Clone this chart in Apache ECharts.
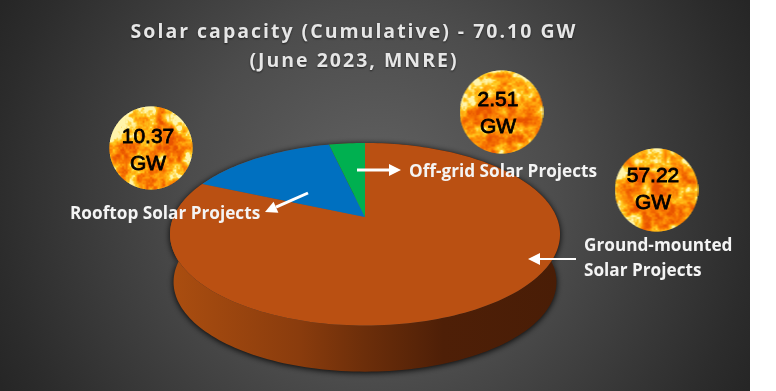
<!DOCTYPE html>
<html><head><meta charset="utf-8">
<script src="https://cdn.jsdelivr.net/npm/echarts@6/dist/echarts.min.js"></script>
<style>html,body{margin:0;padding:0;background:#fff}#c{width:776px;height:391px}</style>
</head><body><div id="c"></div>
<script>
var categories = ['Ground-mounted Solar Projects', 'Rooftop Solar Projects', 'Off-grid Solar Projects'];
var capacityGW = [57.22, 10.37, 2.51];
var sliceColors = ['#ba5012', '#0070c0', '#00b050'];
var titleText = 'Solar capacity (Cumulative) - 70.10 GW\n(June 2023, MNRE)';

var total = capacityGW.reduce(function (a, b) { return a + b; }, 0);
var startVals = capacityGW.map(function (_, i) { return capacityGW.slice(0, i).reduce(function (a, b) { return a + b; }, 0); });

// perspective disc: top and bottom faces
var K = 0.189;
var topFace = { cx: 365, cy: 217, A: 191.5, B: 88 };
var botFace = { cx: 365, cy: 265, A: 188, B: 86.5 };
function pt(f, deg) {
  var t = deg * Math.PI / 180, u = Math.sin(t), v = Math.cos(t), w = 1 + K * v;
  return [f.cx + f.A * u / w, f.cy - f.B * v / w];
}
function arc(f, a0, a1) {
  var out = [], n = Math.max(2, Math.ceil(Math.abs(a1 - a0) / 1.5));
  for (var i = 0; i <= n; i++) out.push(pt(f, a0 + (a1 - a0) * i / n));
  return out;
}
function renderTop(params, api) {
  var i = params.dataIndex, a0 = startVals[i] / total * 360, a1 = a0 + api.value(0) / total * 360;
  var pts = [[topFace.cx, topFace.cy]].concat(arc(topFace, a0, a1));
  return { type: 'polygon', shape: { points: pts }, style: { fill: sliceColors[i] } };
}
var sideFill = { type: 'linear', global: true, x: 170, y: 0, x2: 560, y2: 0, colorStops: [
  { offset: 0, color: '#ab4e10' }, { offset: 0.33, color: '#8a3c0d' }, { offset: 0.5, color: '#6c2e0a' },
  { offset: 0.7, color: '#4e1f07' }, { offset: 1, color: '#491d06' }] };
function renderSide(params, api) {
  var i = params.dataIndex, a0 = startVals[i] / total * 360, a1 = a0 + api.value(0) / total * 360;
  var pts = arc(topFace, a0, a1).concat(arc(botFace, a1, a0));
  return { type: 'polygon', shape: { points: pts },
    style: { fill: sideFill, shadowColor: 'rgba(0,0,0,0.95)', shadowBlur: 6, shadowOffsetY: 1 } };
}

// letter spacing for the title lines only
var TITLE_FONT = 19.5, origFill = CanvasRenderingContext2D.prototype.fillText;
CanvasRenderingContext2D.prototype.fillText = function (s, x, y, m) {
  var spaced = this.font.indexOf(TITLE_FONT + 'px') >= 0;
  if (spaced) this.letterSpacing = '2px';
  origFill.apply(this, arguments);
  if (spaced) this.letterSpacing = '0px';
};

// procedural sun-surface texture
function makeSun(seed, size) {
  var c = document.createElement('canvas'); c.width = c.height = size;
  var g = c.getContext('2d'), img = g.createImageData(size, size), d = img.data;
  function h(x, y) { var s = Math.sin(x * 127.1 + y * 311.7 + seed * 74.7) * 43758.5453; return s - Math.floor(s); }
  function vn(x, y) {
    var xi = Math.floor(x), yi = Math.floor(y), fx = x - xi, fy = y - yi;
    fx = fx * fx * (3 - 2 * fx); fy = fy * fy * (3 - 2 * fy);
    var a = h(xi, yi), b = h(xi + 1, yi), e = h(xi, yi + 1), f = h(xi + 1, yi + 1);
    return a + (b - a) * fx + (e - a) * fy + (a - b - e + f) * fx * fy;
  }
  var ramp = [[0, 232, 84, 0], [0.3, 248, 118, 2], [0.55, 255, 158, 10], [0.78, 255, 200, 30], [1, 255, 244, 170]];
  for (var y = 0; y < size; y++) for (var x = 0; x < size; x++) {
    var nx = (x + 0.5) / size * 2 - 1, ny = (y + 0.5) / size * 2 - 1, r = Math.sqrt(nx * nx + ny * ny);
    var k = (x + y * size) * 4;
    if (r > 1) { d[k + 3] = 0; continue; }
    var sc = 4.5, n = 0.5 * vn(nx * sc + 9, ny * sc + 9) + 0.33 * vn(nx * sc * 2.3 + 3, ny * sc * 2.3 + 3) + 0.17 * vn(nx * sc * 5 + 1, ny * sc * 5 + 1);
    var t = (n - 0.5) * 1.7 + 0.4 + 0.36 * Math.pow(r, 4) - 0.12 * ny * r;
    t = Math.max(0, Math.min(1, t));
    var j = 0; while (j < ramp.length - 2 && t > ramp[j + 1][0]) j++;
    var p = (t - ramp[j][0]) / (ramp[j + 1][0] - ramp[j][0]);
    for (var q = 0; q < 3; q++) d[k + q] = ramp[j][q + 1] + (ramp[j + 1][q + 1] - ramp[j][q + 1]) * p;
    d[k + 3] = Math.min(1, (1 - r) * size / 2 + 0.2) * 255;
  }
  g.putImageData(img, 0, 0);
  return c;
}
var sunCentres = [[656.5, 190], [151, 148], [501.5, 112]];
var sunTextOffsets = [[-3.5, 0], [-3, 3], [-3.5, 2]];

var labelBase = { fill: '#f4f4f4', font: 'bold 17.2px "Open Sans", sans-serif', textVerticalAlign: 'middle' };
function label(text, x, y) {
  return { type: 'text', z: 20, style: Object.assign({ text: text, x: x, y: y, textAlign: 'left' }, labelBase) };
}
function arrow(x0, y0, x1, y1, w) {
  var dx = x1 - x0, dy = y1 - y0, L = Math.sqrt(dx * dx + dy * dy), ux = dx / L, uy = dy / L, hl = 12, hw = 6;
  var bx = x1 - ux * hl, by = y1 - uy * hl;
  return [
    { type: 'line', z: 20, shape: { x1: x0, y1: y0, x2: bx, y2: by }, style: { stroke: '#fff', lineWidth: w } },
    { type: 'polygon', z: 20, shape: { points: [[x1, y1], [bx - uy * hw, by + ux * hw], [bx + uy * hw, by - ux * hw]] }, style: { fill: '#fff' } }
  ];
}

var graphics = [{
  type: 'rect', z: -10, shape: { x: 0, y: 0, width: 750, height: 391 },
  style: { fill: { type: 'radial', global: true, x: 375, y: 195, r: 420, colorStops: [
    { offset: 0, color: '#626262' }, { offset: 0.44, color: '#4c4c4c' }, { offset: 0.9, color: '#2c2c2c' }, { offset: 1, color: '#262626' }] } },
  silent: true
}];
capacityGW.forEach(function (v, i) {
  var c = sunCentres[i], o = sunTextOffsets[i];
  graphics.push({ type: 'image', z: 15, style: { image: makeSun(i + 1, 84), x: c[0] - 42, y: c[1] - 42, width: 84, height: 84 } });
  graphics.push({ type: 'text', z: 16, style: { text: v.toFixed(2) + '\nGW', x: c[0] + o[0], y: c[1] + o[1], textAlign: 'center', textVerticalAlign: 'middle',
    fill: '#000', font: '21px "Liberation Sans", Arial, sans-serif', lineHeight: 27, stroke: '#000', lineWidth: 0.8 } });
});
graphics.push(label('Rooftop Solar Projects', 70, 214.5));
graphics.push(label('Off-grid Solar Projects', 409, 172));
graphics.push(label('Ground-mounted', 584, 246));
graphics.push(label('Solar Projects', 584, 271.5));
graphics = graphics.concat(arrow(308, 193, 265, 212, 3), arrow(357, 170, 401, 170, 3), arrow(576, 259, 528, 259, 2));

var chart = echarts.init(document.getElementById('c'), null, { renderer: 'canvas' });
chart.setOption({
  animation: false,
  backgroundColor: 'transparent',
  title: { text: titleText, left: 349, top: 13, textAlign: 'center',
    textStyle: { color: '#e6e6e6', fontFamily: '"Open Sans", sans-serif', fontWeight: 'bold', fontSize: TITLE_FONT, lineHeight: 29,
      textShadowColor: 'rgba(0,0,0,0.6)', textShadowBlur: 2, textShadowOffsetY: 1 } },
  graphic: graphics,
  series: [
    { type: 'custom', name: 'side', coordinateSystem: 'none', z: 2, silent: true, renderItem: renderSide, data: capacityGW.map(function (v, i) { return { name: categories[i], value: [v] }; }) },
    { type: 'custom', name: 'top', coordinateSystem: 'none', z: 3, silent: true, renderItem: renderTop, data: capacityGW.map(function (v, i) { return { name: categories[i], value: [v] }; }) }
  ]
});
</script></body></html>
